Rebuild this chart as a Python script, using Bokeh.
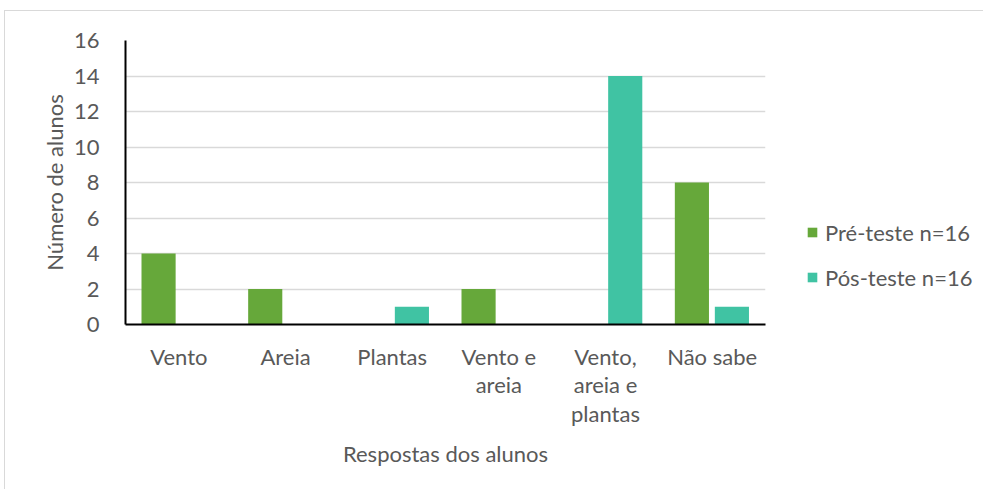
from bokeh.plotting import figure
from bokeh.models import FactorRange, Legend, LegendItem, ColumnDataSource, SingleIntervalTicker
from bokeh.layouts import row
from bokeh.transform import dodge
from bokeh.embed import file_html
from bokeh.resources import INLINE

categories = ["Vento", "Areia", "Plantas", "Vento e\nareia", "Vento,\nareia e\nplantas", "Não sabe"]
pre_teste = [4, 2, 0, 2, 0, 8]
pos_teste = [0, 0, 1, 0, 14, 1]
series_names = ["Pré-teste n=16", "Pós-teste n=16"]
colors = ["#66A83A", "#40C3A3"]

FONT = "Lato"
TXT = "#595959"
FS = "22px"

src = ColumnDataSource(dict(cat=categories, pre=pre_teste, pos=pos_teste))

p = figure(width=795, height=478, x_range=FactorRange(*categories), y_range=(0, 16),
           output_backend="svg", toolbar_location=None,
           min_border_left=120, min_border_right=35, min_border_top=29, min_border_bottom=165)
p.outline_line_color = None
p.background_fill_color = "white"
p.border_fill_color = "white"

p.vbar(x=dodge("cat", -0.19, range=p.x_range), top="pre", width=0.32, source=src,
       fill_color=colors[0], line_color=None)
p.vbar(x=dodge("cat", 0.185, range=p.x_range), top="pos", width=0.32, source=src,
       fill_color=colors[1], line_color=None)

p.yaxis.ticker = SingleIntervalTicker(interval=2)
p.ygrid.grid_line_color = "#d9d9d9"
p.ygrid.grid_line_width = 1.5
p.xgrid.grid_line_color = None

for ax in (p.xaxis[0], p.yaxis[0]):
    ax.axis_line_color = "black"
    ax.axis_line_width = 2
    ax.major_tick_line_color = None
    ax.minor_tick_line_color = None
    ax.major_label_text_font = FONT
    ax.major_label_text_font_size = FS
    ax.major_label_text_color = TXT
    ax.axis_label_text_font = FONT
    ax.axis_label_text_font_size = FS
    ax.axis_label_text_font_style = "normal"
    ax.axis_label_text_color = TXT

p.xaxis.major_label_text_line_height = 1.06
p.yaxis.axis_label = "Número de alunos"
p.yaxis.major_label_standoff = 20
p.yaxis.axis_label_standoff = 3
p.xaxis.axis_label = "Respostas dos alunos"
p.xaxis.major_label_standoff = 12
p.xaxis.axis_label_standoff = 10

# legend panel (its zero-width bars are invisible; only the legend shows)
lg = figure(width=183, height=478, x_range=FactorRange(*categories), y_range=(100, 101),
            output_backend="svg", toolbar_location=None,
            min_border_left=0, min_border_right=0, min_border_top=29, min_border_bottom=165,
            x_axis_location=None, y_axis_location=None)
lg.outline_line_color = None
lg.grid.grid_line_color = None
lg.background_fill_color = "white"
lg.border_fill_color = "white"
d1 = lg.vbar(x=dodge("cat", -0.19, range=lg.x_range), top="pre", width=0, source=src,
             fill_color=colors[0], line_color=None)
d2 = lg.vbar(x=dodge("cat", 0.185, range=lg.x_range), top="pos", width=0, source=src,
             fill_color=colors[1], line_color=None)

legend = Legend(items=[LegendItem(label=series_names[0], renderers=[d1]),
                       LegendItem(label=series_names[1], renderers=[d2])],
                location=(6, 33), orientation="vertical",
                glyph_width=12, glyph_height=12, label_height=28, spacing=17,
                padding=0, margin=0, label_standoff=7,
                label_text_font=FONT, label_text_font_size=FS, label_text_color=TXT,
                border_line_color=None, background_fill_alpha=0)
lg.add_layout(legend, "center")

layout = row(p, lg, spacing=0)
layout.styles = {"margin-left": "4px", "margin-top": "10px",
                 "border-left": "1px solid #d9d9d9", "border-top": "1px solid #d9d9d9"}

open("out.html", "w").write(file_html(layout, INLINE))
